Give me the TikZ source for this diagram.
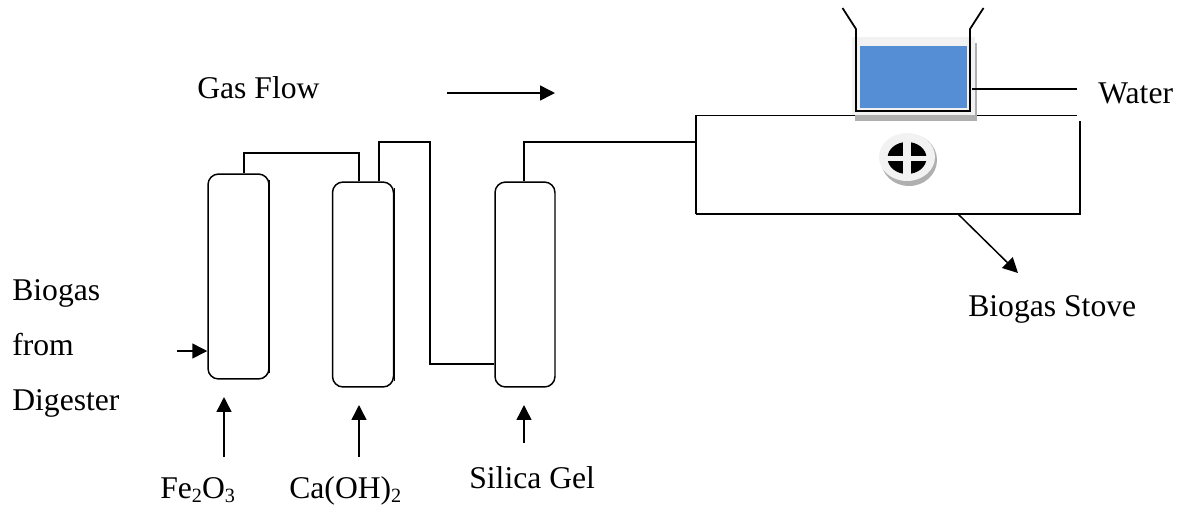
\documentclass[tikz,border=0pt]{standalone}
\usepackage{fontspec}
\setmainfont{Liberation Serif}
\definecolor{waterblue}{RGB}{85,142,213}
\definecolor{potlight}{RGB}{242,242,242}
\definecolor{potshadow}{RGB}{175,175,175}
\usetikzlibrary{arrows.meta,positioning,calc}
\newcommand{\chemsub}[1]{\raisebox{-2.5pt}{\fontsize{11.5}{12}\selectfont #1}}
\tikzset{
  column/.style={draw,line width=0.85pt,rounded corners=6pt,inner sep=0pt,minimum width=1.22cm,minimum height=4.1cm},
  pipe/.style={line width=0.85pt},
  flow/.style={-{Triangle[length=8.5pt,width=8.5pt]},line width=0.85pt},
  tag/.style={anchor=base west,inner sep=0pt,font=\fontsize{18}{21}\selectfont}
}

\begin{document}
\begin{tikzpicture}[x=0.02cm,y=-0.02cm]
  \useasboundingbox (0,0) rectangle (1190,505);
  % the three columns
  \node[column] (fe) at (238.5,276.5) {};
  \node[column] (ca) at (363,284.5) {};
  \node[column,minimum width=1.2cm] (si) at (525,284.5) {};
  % heavier right edges
  \draw[line width=1.3pt] ($(fe.north east)+(-0.5,7)$) -- ($(fe.south east)+(-0.5,-7)$);
  \draw[line width=0.85pt] ($(ca.north east)+(0.5,7)$) -- ($(ca.south east)+(0.5,-7)$);

  % stove body, its top is open at the right corner
  \coordinate (stovetl) at (696,115.5);
  \coordinate (stovetr) at (1077,115.5);
  \coordinate (stovert) at (1080,121);
  \coordinate (stovebr) at (1080,214);
  \coordinate (stovebl) at (696,214);
  \draw[pipe] (stovebl) -- (stovetl) -- (stovetr);
  \draw[pipe] (stovert) -- (stovebr) -- (stovebl);

  % pipes
  \coordinate (p1) at (244,153);
  \coordinate (p2) at (359,153);
  \coordinate (p3) at (379,142);
  \coordinate (p4) at (430,142);
  \coordinate (p5) at (430,364);
  \coordinate (p6) at (524,142);
  \draw[pipe] (p1 |- fe.north) -- (p1) -- (p2) -- (p2 |- ca.north);
  \draw[pipe] (p3 |- ca.north) -- (p3) -- (p4) -- (p5) -- (p5 -| si.west);
  \draw[pipe] (p6 |- si.north) -- (p6) -- (p6 -| stovetl);

  % pot of water on the stove
  \fill[potshadow] (855,43) rectangle (977,120.5);
  \fill[potlight] (852,37) rectangle (975,115);
  \fill[waterblue] (859.5,45.5) rectangle (966.5,107.5);
  \coordinate (potl) at (856,29);
  \coordinate (potr) at (970,29);
  \coordinate (potbl) at (856,111);
  \coordinate (potbr) at (970,111);
  \coordinate (flarel) at (842.5,8);
  \coordinate (flarer) at (983.5,8);
  \draw[line width=1pt] (flarel) -- (potl) -- (potbl) -- (potbr) -- (potr) -- (flarer);
  \coordinate (waterl) at (972,89);
  \coordinate (waterr) at (1077,89);
  \draw[line width=1pt] (waterl) -- (waterr);

  % burner
  \fill[potshadow] (909,160) ellipse [x radius=28,y radius=26];
  \fill[potlight] (907,157) ellipse [x radius=28,y radius=24];
  \fill[black] (907,158) ellipse [x radius=19.5,y radius=16];
  \fill[potlight] (902.5,140) rectangle (911,176);
  \fill[potlight] (885,155.5) rectangle (929,161);

  % arrows
  \coordinate (gasa) at (447,93);
  \coordinate (gasb) at (555,93);
  \draw[flow] (gasa) -- (gasb);
  \coordinate (ina) at (177,351);
  \draw[flow] (ina) -- (ina -| fe.west);
  \coordinate (upa) at (224,457);
  \coordinate (upb) at (224,397);
  \draw[flow] (upa) -- (upb);
  \coordinate (upc) at (359,457);
  \coordinate (upd) at (359,405);
  \draw[flow] (upc) -- (upd);
  \coordinate (upe) at (524,443);
  \coordinate (upf) at (524,405);
  \draw[flow] (upe) -- (upf);
  \coordinate (stovea) at (958,214);
  \coordinate (stoveb) at (1018,273);
  \draw[flow] (stovea) -- (stoveb);

  % labels
  \node[tag] (gasflow) at (197,98) {Gas Flow};
  \node[tag] (water) at (1098,103) {Water};
  \node[tag] (biogas) at (12,300) {Biogas};
  \node[tag] (from) at (12,355) {from};
  \node[tag] (digester) at (12,410) {Digester};
  \node[tag] (stove) at (968,316) {Biogas Stove};
  \node[tag] (feox) at (160,498) {Fe\chemsub{2}O\chemsub{3}};
  \node[tag] (caoh) at (289,498) {Ca(OH)\chemsub{2}};
  \node[tag] (silica) at (469,488) {Silica Gel};
\end{tikzpicture}
\end{document}
